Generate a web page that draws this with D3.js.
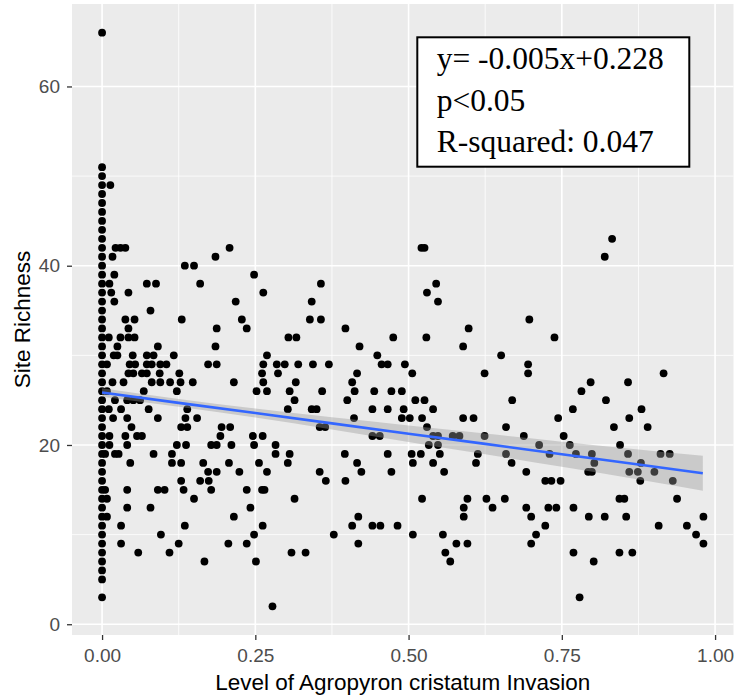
<!DOCTYPE html>
<html>
<head>
<meta charset="utf-8">
<script src="https://cdn.jsdelivr.net/npm/d3@7"></script>
<style>
  body { margin: 0; background: #ffffff; }
  svg { display: block; }
</style>
</head>
<body>
<svg id="chart" width="735" height="700"></svg>
<script>
// Site richness values (rows) and the invasion levels of the sites at each richness value.
const richnessLevels = [
  66, 51, 50, 49, 48, 47, 46, 45, 44, 43, 42, 41, 40, 39, 38, 37, 36, 35, 34, 33,
  32, 31, 30, 29, 28, 27, 26, 25, 24, 23, 22, 21, 20, 19, 18, 17, 16, 15, 14, 13,
  12, 11, 10, 9, 8, 7, 6, 5, 3, 2
];
const invasionByLevel = [
  [0],
  [0],
  [0],
  [0, 0.0135],
  [0],
  [0],
  [0],
  [0],
  [0],
  [0, 0.832],
  [0, 0.022, 0.030, 0.038, 0.208, 0.521, 0.526],
  [0, 0.017, 0.185, 0.820],
  [0, 0.135, 0.150],
  [0, 0.020, 0.248],
  [0, 0.012, 0.073, 0.088, 0.160, 0.357, 0.545],
  [0, 0.015, 0.043, 0.263, 0.530],
  [0, 0.020, 0.218, 0.342, 0.548],
  [0, 0.079],
  [0, 0.038, 0.053, 0.130, 0.228, 0.339, 0.357, 0.697],
  [0, 0.043, 0.187, 0.236, 0.397, 0.598],
  [0, 0.011, 0.030, 0.043, 0.053, 0.304, 0.317, 0.475, 0.529, 0.738],
  [0, 0.025, 0.091, 0.185, 0.420, 0.589],
  [0, 0.019, 0.025, 0.050, 0.073, 0.084, 0.117, 0.269, 0.449, 0.651],
  [0, 0.008, 0.045, 0.054, 0.073, 0.081, 0.095, 0.105, 0.173, 0.187, 0.263, 0.285, 0.298, 0.320, 0.344, 0.370, 0.456, 0.466, 0.494, 0.695],
  [0, 0.043, 0.051, 0.065, 0.073, 0.094, 0.126, 0.261, 0.287, 0.416, 0.506, 0.624, 0.695, 0.916],
  [0, 0.017, 0.035, 0.081, 0.095, 0.111, 0.128, 0.148, 0.215, 0.263, 0.316, 0.408, 0.797, 0.858],
  [0, 0.008, 0.068, 0.122, 0.252, 0.269, 0.306, 0.359, 0.412, 0.444, 0.472, 0.489, 0.782],
  [0, 0.021, 0.041, 0.051, 0.062, 0.314, 0.400, 0.511, 0.526, 0.669, 0.822],
  [0, 0.011, 0.031, 0.076, 0.139, 0.303, 0.342, 0.350, 0.441, 0.466, 0.492, 0.540, 0.768, 0.880],
  [0, 0.018, 0.041, 0.091, 0.136, 0.155, 0.411, 0.489, 0.502, 0.522, 0.589, 0.606, 0.744, 0.860],
  [0, 0.048, 0.129, 0.139, 0.195, 0.209, 0.355, 0.364, 0.530, 0.659, 0.835, 0.890],
  [0, 0.012, 0.038, 0.057, 0.065, 0.193, 0.246, 0.262, 0.441, 0.453, 0.540, 0.548, 0.572, 0.583, 0.624, 0.688, 0.753],
  [0, 0.012, 0.041, 0.122, 0.137, 0.178, 0.187, 0.211, 0.248, 0.283, 0.533, 0.548, 0.713, 0.763, 0.845],
  [0, 0.005, 0.021, 0.027, 0.084, 0.114, 0.283, 0.306, 0.396, 0.466, 0.505, 0.520, 0.551, 0.613, 0.659, 0.730, 0.773, 0.799, 0.858, 0.911, 0.926],
  [0, 0.046, 0.114, 0.129, 0.165, 0.207, 0.256, 0.303, 0.416, 0.507, 0.540, 0.610, 0.668, 0.803, 0.879],
  [0, 0.173, 0.187, 0.224, 0.269, 0.355, 0.423, 0.472, 0.558, 0.692, 0.793, 0.799, 0.860, 0.874, 0.901],
  [0, 0.129, 0.160, 0.174, 0.365, 0.397, 0.723, 0.733, 0.748, 0.878, 0.931],
  [0, 0.005, 0.041, 0.091, 0.102, 0.133, 0.178, 0.236, 0.261, 0.265],
  [0, 0.008, 0.150, 0.314, 0.522, 0.596, 0.627, 0.657, 0.844, 0.852, 0.938],
  [0, 0.041, 0.079, 0.242, 0.590, 0.637, 0.692, 0.728, 0.741, 0.769],
  [0, 0.008, 0.215, 0.418, 0.590, 0.700, 0.794, 0.820, 0.855, 0.981],
  [0, 0.031, 0.135, 0.262, 0.408, 0.441, 0.454, 0.482, 0.723, 0.908, 0.954],
  [0, 0.096, 0.248, 0.378, 0.507, 0.556, 0.708, 0.969],
  [0, 0.031, 0.125, 0.206, 0.236, 0.418, 0.578, 0.596, 0.700, 0.981],
  [0, 0.059, 0.110, 0.309, 0.332, 0.560, 0.769, 0.844, 0.865],
  [0, 0.167, 0.251, 0.568, 0.802],
  [0],
  [0],
  [0, 0.779],
  [0.278]
];

// Fitted linear trend and its confidence band half-width.
const fitX = [0, 0.125, 0.25, 0.375, 0.5, 0.625, 0.75, 0.875, 0.98];
const fitY = [25.85, 24.70, 23.56, 22.41, 21.26, 20.12, 18.97, 17.82, 16.85];
const fitHalfWidth = [0.47, 0.43, 0.50, 0.68, 0.92, 1.15, 1.40, 1.68, 1.95];

const xTicks = [0, 0.25, 0.5, 0.75, 1];
const xMinorTicks = [0.125, 0.375, 0.625, 0.875];
const yTicks = [0, 20, 40, 60];
const yMinorTicks = [10, 30, 50];

const statLines = ["y= -0.005x+0.228", "p<0.05", "R-squared: 0.047"];
const xTitle = "Level of Agropyron cristatum Invasion";
const yTitle = "Site Richness";

// ---- build points ----
const points = richnessLevels.flatMap((r, i) => invasionByLevel[i].map(v => ({ x: v, y: r })));

const panel = { left: 72, right: 733.5, top: 4, bottom: 635 };
const xExt = d3.extent(points, d => d.x);
const yExt = d3.extent(points, d => d.y);
const xPad = (xExt[1] - xExt[0]) * 0.05;
const yPad = (yExt[1] - yExt[0]) * 0.05;

const x = d3.scaleLinear().domain([xExt[0] - xPad, xExt[1] + xPad]).range([panel.left, panel.right]);
const y = d3.scaleLinear().domain([yExt[0] - yPad, yExt[1] + yPad]).range([panel.bottom, panel.top]);

const svg = d3.select("#chart");
const sans = "'Liberation Sans', Arial, 'DejaVu Sans', sans-serif";
const serif = "'Liberation Serif', 'Times New Roman', serif";

// panel background
svg.append("rect")
  .attr("x", panel.left).attr("y", panel.top)
  .attr("width", panel.right - panel.left).attr("height", panel.bottom - panel.top)
  .attr("fill", "#EBEBEB");

const grid = svg.append("g");
grid.selectAll(".vminor").data(xMinorTicks).join("line")
  .attr("x1", d => x(d)).attr("x2", d => x(d))
  .attr("y1", panel.top).attr("y2", panel.bottom)
  .attr("stroke", "#fff").attr("stroke-width", 0.8);
grid.selectAll(".hminor").data(yMinorTicks).join("line")
  .attr("y1", d => y(d)).attr("y2", d => y(d))
  .attr("x1", panel.left).attr("x2", panel.right)
  .attr("stroke", "#fff").attr("stroke-width", 0.8);
grid.selectAll(".vmajor").data(xTicks).join("line")
  .attr("x1", d => x(d)).attr("x2", d => x(d))
  .attr("y1", panel.top).attr("y2", panel.bottom)
  .attr("stroke", "#fff").attr("stroke-width", 1.6);
grid.selectAll(".hmajor").data(yTicks).join("line")
  .attr("y1", d => y(d)).attr("y2", d => y(d))
  .attr("x1", panel.left).attr("x2", panel.right)
  .attr("stroke", "#fff").attr("stroke-width", 1.6);

// points
svg.append("g").selectAll("circle").data(points).join("circle")
  .attr("cx", d => x(d.x)).attr("cy", d => y(d.y))
  .attr("r", 3.9).attr("fill", "#000");

// confidence band and fitted line
const fit = fitX.map((v, i) => ({ x: v, y: fitY[i], lo: fitY[i] - fitHalfWidth[i], hi: fitY[i] + fitHalfWidth[i] }));
svg.append("path").datum(fit)
  .attr("d", d3.area().curve(d3.curveMonotoneX).x(d => x(d.x)).y0(d => y(d.lo)).y1(d => y(d.hi)))
  .attr("fill", "#999999").attr("fill-opacity", 0.4);
svg.append("path").datum(fit)
  .attr("d", d3.line().x(d => x(d.x)).y(d => y(d.y)))
  .attr("fill", "none").attr("stroke", "#3366FF").attr("stroke-width", 2.6);

// axes
const xAxis = svg.append("g")
  .attr("transform", `translate(0,${panel.bottom})`)
  .call(d3.axisBottom(x).tickValues(xTicks).tickFormat(d3.format(".2f")).tickSize(5).tickPadding(9));
const yAxis = svg.append("g")
  .attr("transform", `translate(${panel.left},0)`)
  .call(d3.axisLeft(y).tickValues(yTicks).tickFormat(d3.format("d")).tickSize(5).tickPadding(7));
[xAxis, yAxis].forEach(g => {
  g.select(".domain").remove();
  g.selectAll(".tick line").attr("stroke", "#333333").attr("stroke-width", 1.3);
  g.selectAll(".tick text").attr("fill", "#4D4D4D")
    .style("font-family", sans).style("font-size", "19px");
});

// axis titles
svg.append("text")
  .attr("x", (panel.left + panel.right) / 2).attr("y", 690)
  .attr("text-anchor", "middle")
  .style("font-family", sans).style("font-size", "22.5px").attr("fill", "#000")
  .text(xTitle);
svg.append("text")
  .attr("transform", `translate(30,${(panel.top + panel.bottom) / 2}) rotate(-90)`)
  .attr("text-anchor", "middle")
  .style("font-family", sans).style("font-size", "22.5px").attr("fill", "#000")
  .text(yTitle);

// statistics box
const box = svg.append("g");
box.append("rect")
  .attr("x", 417.3).attr("y", 37.3).attr("width", 272).attr("height", 129.4)
  .attr("fill", "#fff").attr("stroke", "#000").attr("stroke-width", 2);
box.selectAll("text").data(statLines).join("text")
  .attr("x", 436.7).attr("y", (d, i) => 69 + i * 41.5)
  .style("font-family", serif).style("font-size", "31.5px").attr("fill", "#000")
  .text(d => d);
</script>
</body>
</html>
